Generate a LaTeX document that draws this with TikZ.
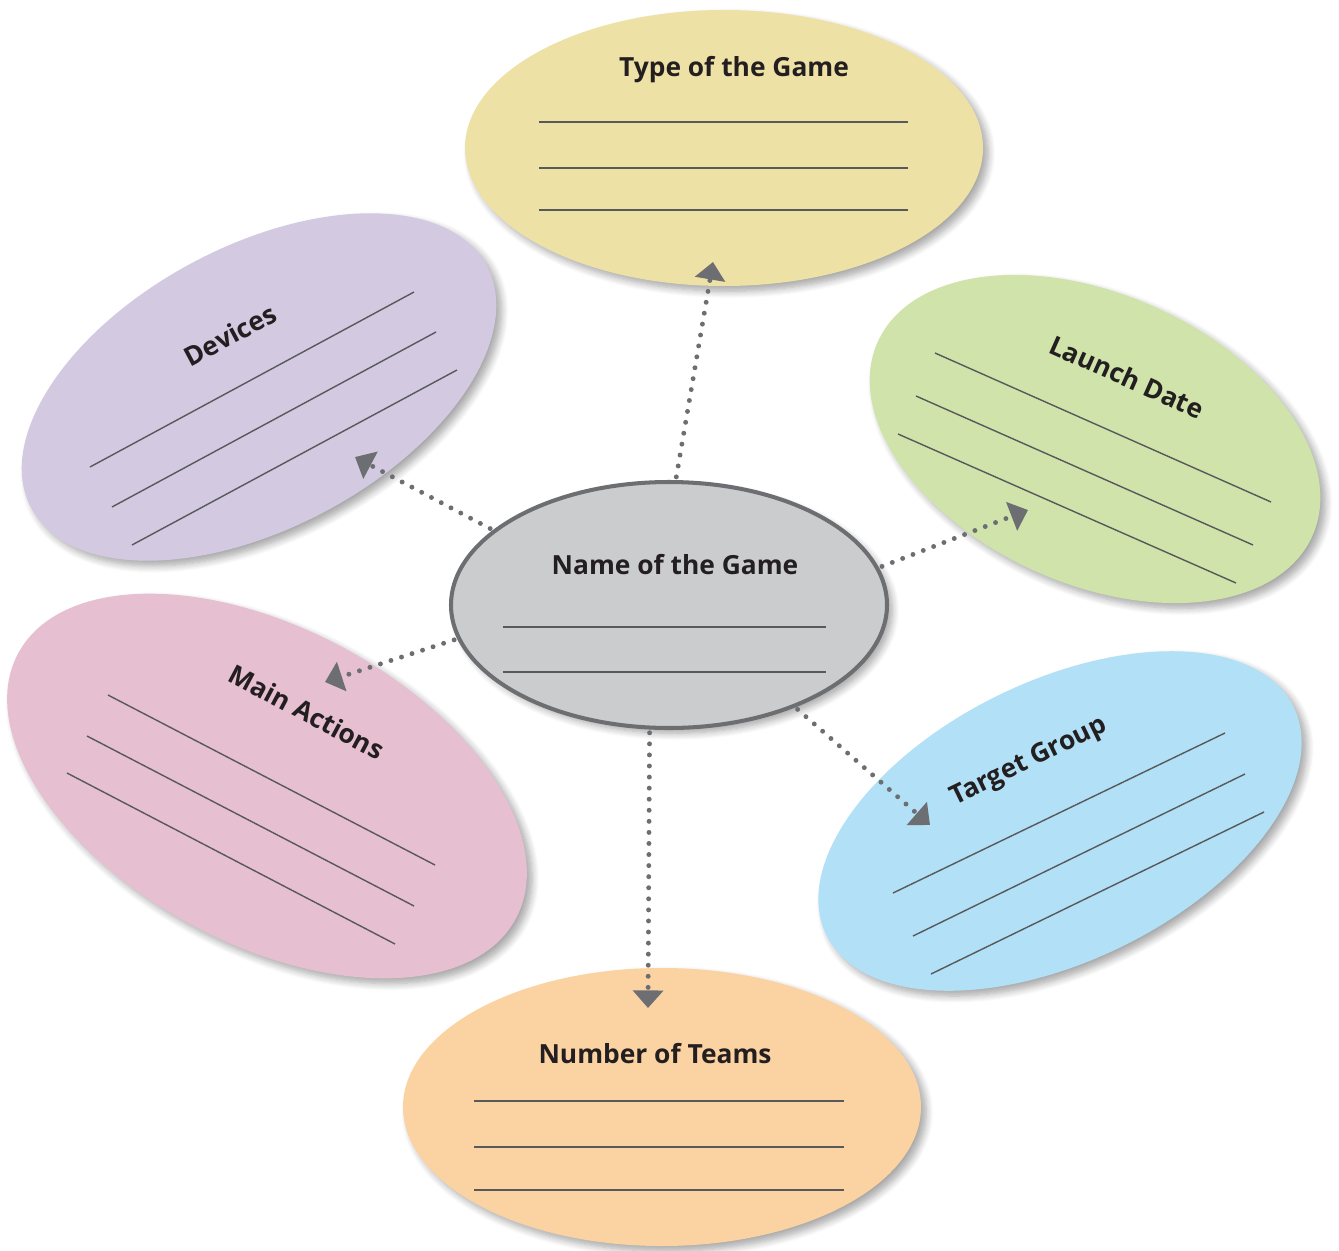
\documentclass[tikz,border=0pt]{standalone}
\usepackage{fontspec}
\setmainfont{Open Sans}
\usetikzlibrary{shapes.geometric,arrows.meta,shadows.blur}
\definecolor{cyellow}{HTML}{EEE1A6}
\definecolor{cpurple}{HTML}{D3CAE2}
\definecolor{cgreen}{HTML}{CFE3AA}
\definecolor{cpink}{HTML}{E6BFD1}
\definecolor{cblue}{HTML}{B2E0F6}
\definecolor{corange}{HTML}{FBD2A2}
\definecolor{cgray}{HTML}{CBCCCE}
\definecolor{cborder}{HTML}{6D6E71}
\definecolor{cline}{HTML}{58595B}
\definecolor{ctext}{HTML}{231F20}
\tikzset{
  bubble/.style={ellipse, inner sep=0pt, outer sep=0pt, draw=none,
    blur shadow={shadow xshift=3pt, shadow yshift=-3pt, shadow blur steps=8, shadow blur radius=4pt, shadow opacity=35}},
  title/.style={font=\fontsize{15}{18}\selectfont\bfseries, text=ctext, inner sep=0pt},
  wline/.style={draw=cline, line width=0.8pt},
  conn/.style={draw=cborder, line width=2.8pt, line cap=round, dash pattern=on 0pt off 6.3pt,
    -{Triangle[length=10pt,width=17pt,line cap=butt]}, shorten <=3pt},
}
\begin{document}
\begin{tikzpicture}[x=0.02cm,y=-0.02cm]
\useasboundingbox (0,0) rectangle (1339,1251);
% outer ellipses
\node[bubble, fill=cyellow, minimum width=518*0.02cm, minimum height=276*0.02cm] (type) at (724,148) {};
\node[bubble, fill=cpurple, minimum width=516*0.02cm, minimum height=282*0.02cm, rotate=28] (dev) at (259,387) {};
\node[bubble, fill=cgreen, minimum width=476*0.02cm, minimum height=290*0.02cm, rotate=-24] (launch) at (1095,439) {};
\node[bubble, fill=cpink, minimum width=564*0.02cm, minimum height=316*0.02cm, rotate=-28] (main) at (267,786) {};
\node[bubble, fill=cblue, minimum width=520*0.02cm, minimum height=280*0.02cm, rotate=26] (target) at (1060,821) {};
\node[bubble, fill=corange, minimum width=518*0.02cm, minimum height=278*0.02cm] (teams) at (662,1107) {};
% center
\node[bubble, fill=cgray, draw=cborder, line width=2.3pt, minimum width=436*0.02cm, minimum height=246*0.02cm] (name) at (669,605) {};
% titles
\node[title] (ttype) at (734,70) {Type of the Game};
\node[title] (tname) at (675,565) {Name of the Game};
\node[title, rotate=28] (tdev) at (230,335) {Devices};
\node[title, rotate=-24] (tlaunch) at (1127,377) {Launch Date};
\node[title, rotate=-28] (tmain) at (307,712) {Main Actions};
\node[title, rotate=26] (ttarget) at (1029,762) {Target Group};
\node[title] (tteams) at (655,1054) {Number of Teams};
% writing lines
\draw[wline] (539,122) -- (908,122);
\draw[wline] (539,168) -- (908,168);
\draw[wline] (539,210) -- (908,210);
\draw[wline] (503,627) -- (826,627);
\draw[wline] (503,672) -- (826,672);
\draw[wline] (474,1101) -- (844,1101);
\draw[wline] (474,1147) -- (844,1147);
\draw[wline] (474,1190) -- (844,1190);
\draw[wline] (90,467) -- (414,292);
\draw[wline] (112,507) -- (436,332);
\draw[wline] (132,545) -- (457,370);
\draw[wline] (935,353) -- (1271,502);
\draw[wline] (916,396) -- (1253,545);
\draw[wline] (898,434) -- (1236,583);
\draw[wline] (108,695) -- (435,865);
\draw[wline] (87,736) -- (414,906);
\draw[wline] (67,773) -- (395,944);
\draw[wline] (893,893) -- (1225,733);
\draw[wline] (913,936) -- (1245,774);
\draw[wline] (931,974) -- (1264,812);
% arrow end points
\coordinate (eType) at (713,262);
\coordinate (eDev) at (355,457);
\coordinate (eMain) at (325,682);
\coordinate (eLaunch) at (1028,510);
\coordinate (eTarget) at (930,825);
\coordinate (eTeams) at (648,1008);
% connectors
\draw[conn] (name.87) -- (eType);
\draw[conn] (name.157) -- (eDev);
\draw[conn] (name.189) -- (eMain);
\draw[conn] (name.10) -- (eLaunch);
\draw[conn] (name.-39) -- (eTarget);
\draw[conn] (name.261) -- (eTeams);
\end{tikzpicture}
\end{document}
